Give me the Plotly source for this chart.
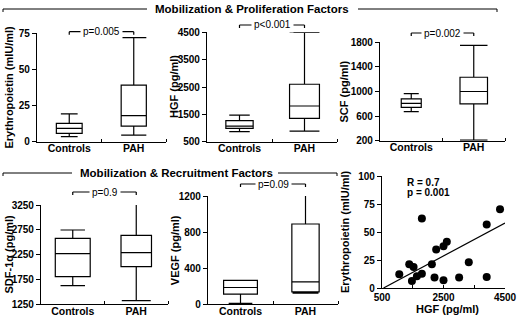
import plotly.graph_objects as go

W, H = 520, 317
FONT = "Liberation Sans, Arial, sans-serif"

categories = ["Controls", "PAH"]

# Box statistics [Controls, PAH]
epo_lo = [3.5, 4.6];    epo_q1 = [5.8, 10.8];   epo_med = [9.2, 18.0];   epo_q3 = [12.7, 39.2];  epo_hi = [19.2, 72.0]
hgf_lo = [866, 890];    hgf_q1 = [988, 1354];   hgf_med = [1073, 1805];  hgf_q3 = [1268, 2600];  hgf_hi = [1475, 4500]
scf_lo = [673, 210];    scf_q1 = [743, 800];    scf_med = [808, 1000];   scf_q3 = [879, 1232];   scf_hi = [965, 1750]
sdf_lo = [1620, 1317];  sdf_q1 = [1802, 2004];  sdf_med = [2267, 2287];  sdf_q3 = [2577, 2637];  sdf_hi = [2745, 3390]
vegf_lo = [11, 123];    vegf_q1 = [112, 138];   vegf_med = [186, 249];   vegf_q3 = [264, 890];   vegf_hi = [264, 1282]

p_labels = ["p=0.005", "p<0.001", "p=0.002", "p=0.9", "p=0.09"]

# Scatter: HGF vs Erythropoietin
hgf_x = [1062, 1386, 1527, 1473, 1635, 1797, 1797, 2122, 2208, 2262, 2500, 2608, 2500, 3008, 3322, 3905, 3905, 4338]
epo_y = [12.2, 21.2, 18.8, 6.3, 10.4, 12.8, 62.0, 21.2, 9.3, 34.3, 37.3, 41.2, 6.9, 9.3, 23.0, 56.7, 9.9, 70.4]
fit_x = [550, 4500]
fit_y = [0, 58]

def px(x):
    return x / W

def py(y):
    return 1 - y / H

panels = [
    dict(st=(epo_lo, epo_q1, epo_med, epo_q3, epo_hi), yr=[0, 75], yt=[0, 25, 50, 75],
         xd=(37, 166), yd=(33.3, 141.7), title="Erythropoietin (mIU/ml)", tx=8,
         w=[0.40, 0.39], ww=[0.65, 1.0], by=31.7),
    dict(st=(hgf_lo, hgf_q1, hgf_med, hgf_q3, hgf_hi), yr=[500, 4500], yt=[500, 1500, 2500, 3500, 4500],
         xd=(207, 337), yd=(32.3, 141.7), title="HGF (pg/ml)", tx=174,
         w=[0.42, 0.46], ww=[0.75, 1.0], by=25),
    dict(st=(scf_lo, scf_q1, scf_med, scf_q3, scf_hi), yr=[200, 1800], yt=[200, 600, 1000, 1400, 1800],
         xd=(380, 505), yd=(42.3, 140.7), title="SCF (pg/ml)", tx=343,
         w=[0.32, 0.44], ww=[0.75, 1.0], by=33),
    dict(st=(sdf_lo, sdf_q1, sdf_med, sdf_q3, sdf_hi), yr=[1250, 3250], yt=[1250, 1750, 2250, 2750, 3250],
         xd=(41, 168), yd=(205, 304), title="SDF-1α (pg/ml)", tx=8,
         w=[0.55, 0.48], ww=[0.7, 0.95], by=192),
    dict(st=(vegf_lo, vegf_q1, vegf_med, vegf_q3, vegf_hi), yr=[0, 1200], yt=[0, 400, 800, 1200],
         xd=(208, 338), yd=(196, 304.3), title="VEGF (pg/ml)", tx=175,
         w=[0.52, 0.42], ww=[0.7, 0.95], by=184),
]

fig = go.Figure()
shapes = []
annotations = []
tickfont = dict(family=FONT, size=10, color="black", weight="bold")
axcommon = dict(showline=True, linecolor="black", linewidth=1.2, showgrid=False, zeroline=False,
                tickfont=tickfont, fixedrange=True, automargin=False)

def ann(text, x, y, size=11, angle=0, xanchor="center", **kw):
    d = dict(text=text, x=x, y=y, xref=kw.pop("xref", "paper"), yref=kw.pop("yref", "paper"),
             textangle=angle, showarrow=False, xanchor=xanchor, yanchor="middle",
             font=dict(family=FONT, size=size, color="black"))
    d.update(kw)
    annotations.append(d)

for i, p in enumerate(panels):
    n = "" if i == 0 else str(i + 1)
    xa, ya = "x" + n, "y" + n
    lo, q1, med, q3, hi = p["st"]
    for c in range(2):
        fig.add_trace(go.Box(
            x=[c], q1=[q1[c]], median=[med[c]], q3=[q3[c]], lowerfence=[lo[c]], upperfence=[hi[c]],
            width=p["w"][c], whiskerwidth=p["ww"][c], boxpoints=False,
            line=dict(color="black", width=1.2), fillcolor="white",
            xaxis=xa, yaxis=ya, showlegend=False, hoverinfo="skip"))
    fig.layout["xaxis" + n] = dict(
        axcommon, domain=[px(p["xd"][0]), px(p["xd"][1])], range=[-0.5, 1.5], anchor=ya,
        tickmode="array", tickvals=[0, 1], ticktext=categories, ticks="", ticklabelstandoff=-3,
        tickfont=dict(tickfont, size=10.5),
        minor=dict(tickmode="array", tickvals=[0.5, 1.5], ticks="inside", ticklen=3,
                   tickcolor="black", tickwidth=1.2))
    fig.layout["yaxis" + n] = dict(
        axcommon, domain=[py(p["yd"][1]), py(p["yd"][0])], range=p["yr"], anchor=xa,
        tickmode="array", tickvals=p["yt"], ticks="outside", ticklen=4, tickwidth=1.2, tickcolor="black")
    ann("<b>%s</b>" % p["title"], px(p["tx"]), py((p["yd"][0] + p["yd"][1]) / 2), angle=-90)
    yb = py(p["by"])
    yt_ = py(p["by"] + 3)
    for xv in (0, 1):
        shapes.append(dict(type="line", xref=xa, yref="paper", x0=xv, x1=xv, y0=yb, y1=yt_,
                           line=dict(color="black", width=1.2)))
    shapes.append(dict(type="line", xref=xa, yref="paper", x0=0, x1=1, y0=yb, y1=yb,
                       line=dict(color="black", width=1.2)))
    ann(p_labels[i], 0.5, yb, size=10, xref=xa, bgcolor="white", borderpad=2)

# Scatter panel
fig.add_trace(go.Scatter(x=hgf_x, y=epo_y, mode="markers", xaxis="x6", yaxis="y6",
                         marker=dict(size=8, color="black"), showlegend=False, cliponaxis=False,
                         hoverinfo="skip"))
fig.add_trace(go.Scatter(x=fit_x, y=fit_y, mode="lines", xaxis="x6", yaxis="y6",
                         line=dict(color="black", width=1.2), showlegend=False, hoverinfo="skip"))
fig.layout["xaxis6"] = dict(axcommon, domain=[px(382), px(505)], range=[500, 4500], anchor="y6",
                            tickmode="array", tickvals=[500, 1500, 2500, 3500, 4500],
                            ticktext=["500", "", "2500", "", "4500"], ticks="inside", ticklen=3,
                            tickwidth=1.2, tickcolor="black")
fig.layout["yaxis6"] = dict(axcommon, domain=[py(288), py(176)], range=[0, 100], anchor="x6",
                            tickmode="array", tickvals=[0, 25, 50, 75, 100], ticks="outside", ticklen=4,
                            tickwidth=1.2, tickcolor="black")
ann("<b>Erythropoietin (mIU/ml)</b>", px(345), py(232), angle=-90)
ann("<b>HGF (pg/ml)</b>", px(447), py(309))
ann("<b>R = 0.7</b>", px(405), py(182.7), size=10, xanchor="left")
ann("<b>p = 0.001</b>", px(405), py(192.5), size=10, xanchor="left")

def section(title, cx, cy, l0, l1, r0, r1):
    ann("<b>%s</b>" % title, px(cx), py(cy), size=11.5)
    for a, b in ((l0, l1), (r0, r1)):
        shapes.append(dict(type="line", xref="paper", yref="paper", x0=px(a), x1=px(b), y0=py(cy), y1=py(cy),
                           line=dict(color="black", width=1)))
    for e in (l0, r1):
        shapes.append(dict(type="line", xref="paper", yref="paper", x0=px(e), x1=px(e), y0=py(cy), y1=py(cy + 3),
                           line=dict(color="black", width=1)))

section("Mobilization & Proliferation Factors", 251.5, 9, 3, 147, 358, 497)
section("Mobilization & Recruitment Factors", 176, 173, 3, 72, 278, 337)

fig.update_layout(template="none", width=W, height=H, margin=dict(l=0, r=0, t=0, b=0, pad=0),
                  paper_bgcolor="white", plot_bgcolor="white", shapes=shapes, annotations=annotations,
                  showlegend=False, font=dict(family=FONT, color="black"))
fig.write_html("out.html", config={"displayModeBar": False},
               post_script="document.body.style.margin='0px';document.body.style.overflow='hidden';")
